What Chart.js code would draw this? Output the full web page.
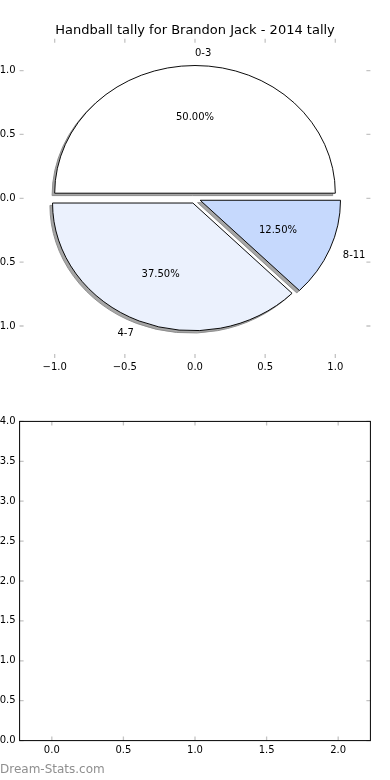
<!DOCTYPE html>
<html><head><meta charset="utf-8">
<script src="https://cdn.jsdelivr.net/npm/chart.js@4.4.1/dist/chart.umd.min.js"></script>
<style>
html,body{margin:0;padding:0;background:#fff;}
#wrap{position:relative;width:390px;height:780px;overflow:hidden;background:#fff;}
#wrap canvas{position:absolute;left:0;}
#wm{position:absolute;left:0;top:763px;font:12px "DejaVu Sans",sans-serif;line-height:12px;color:#8f8f8f;white-space:nowrap;}
</style></head><body>
<div id="wrap">
<canvas id="axTop" width="390" height="390" style="top:0"></canvas>
<canvas id="pieShadow" width="390" height="390" style="top:0"></canvas>
<canvas id="pie" width="390" height="390" style="top:0"></canvas>
<canvas id="axBottom" width="390" height="390" style="top:390px"></canvas>
<div id="wm">Dream-Stats.com</div>
</div>
<script>
// ---- data ----
const chartTitle = 'Handball tally for Brandon Jack - 2014 tally';
const categories = ['0-3', '4-7', '8-11'];
const tallies = [4, 3, 1];
const sliceColors = ['#ffffff', '#ebf1fd', '#c6d9fd'];
const explode = [0.04, 0.04, 0.04];
const pieTicks = [-1, -0.5, 0, 0.5, 1];
const pieRange = [-1.25, 1.25];
const emptyXTicks = [0, 0.5, 1, 1.5, 2];
const emptyYTicks = [0, 0.5, 1, 1.5, 2, 2.5, 3, 3.5, 4];
const emptyXRange = [-0.225, 2.225];
const emptyYRange = [0, 4];

// ---- setup ----
Chart.defaults.font.family = '"DejaVu Sans", sans-serif';
Chart.defaults.font.size = 10;
Chart.defaults.color = '#000';
const W = 390, H = 390;
const fmt = v => Number(v).toFixed(1).replace('-', '\u2212');
const fixedTicks = arr => scale => { scale.ticks = arr.map(v => ({ value: v })); };

function tickMarks(frame) {
  return {
    id: 'tickMarks',
    afterDraw(c) {
      const { ctx, chartArea: a } = c;
      const x = c.scales.x, y = c.scales.y, L = 4;
      ctx.save();
      ctx.lineWidth = 1.3;
      ctx.strokeStyle = '#c4c4c4';
      ctx.beginPath();
      x.ticks.forEach(t => {
        const p = x.getPixelForValue(t.value);
        ctx.moveTo(p, a.top); ctx.lineTo(p, a.top + L);
        ctx.moveTo(p, a.bottom); ctx.lineTo(p, a.bottom - L);
      });
      y.ticks.forEach(t => {
        const p = y.getPixelForValue(t.value);
        ctx.moveTo(a.left, p); ctx.lineTo(a.left + L, p);
        ctx.moveTo(a.right, p); ctx.lineTo(a.right - L, p);
      });
      ctx.stroke();
      if (frame) {
        ctx.strokeStyle = '#000';
        ctx.lineWidth = 1;
        ctx.strokeRect(a.left, a.top, a.right - a.left, a.bottom - a.top);
      }
      ctx.restore();
    }
  };
}

function axesConfig(xr, yr, xt, yt, area, frame, title) {
  return {
    type: 'scatter',
    data: { datasets: [{ data: [] }] },
    options: {
      responsive: false, animation: false, events: [],
      layout: { padding: { top: title ? 0 : area.top, right: 0, left: 0, bottom: 0 } },
      plugins: {
        legend: { display: false }, tooltip: { enabled: false },
        title: title ? {
          display: true, text: title, color: '#000',
          font: { family: '"DejaVu Sans", sans-serif', size: 13, weight: 'normal' },
          padding: { top: 22.6, bottom: area.top - 22.6 - 15.6 }
        } : { display: false }
      },
      scales: {
        x: {
          type: 'linear', min: xr[0], max: xr[1],
          afterBuildTicks: fixedTicks(xt),
          afterFit: s => { s.height = H - area.bottom; },
          grid: { display: false, drawTicks: false }, border: { display: false },
          ticks: { callback: v => fmt(v), padding: 4, maxRotation: 0, autoSkip: false }
        },
        y: {
          type: 'linear', min: yr[0], max: yr[1],
          afterBuildTicks: fixedTicks(yt),
          afterFit: s => { s.width = area.left; },
          grid: { display: false, drawTicks: false }, border: { display: false },
          ticks: { callback: v => fmt(v), padding: 4, autoSkip: false }
        },
        yRight: {
          type: 'linear', position: 'right', min: yr[0], max: yr[1],
          afterFit: s => { s.width = W - area.right; },
          grid: { display: false, drawTicks: false }, border: { display: false },
          ticks: { display: false }
        }
      }
    },
    plugins: [tickMarks(frame)]
  };
}

const axTop = new Chart(document.getElementById('axTop'),
  axesConfig(pieRange, pieRange, pieTicks, pieTicks,
    { left: 19.6, right: 370.4, top: 38.7, bottom: 357.9 }, false, chartTitle));

const axBottom = new Chart(document.getElementById('axBottom'),
  axesConfig(emptyXRange, emptyYRange, emptyXTicks, emptyYTicks,
    { left: 19.6, right: 370.4, top: 31.4, bottom: 350.6 }, true, null));

// ---- pie placed on the top axes' scales ----
const xs = axTop.scales.x, ys = axTop.scales.y;
const cx = xs.getPixelForValue(0), cy = ys.getPixelForValue(0);
const rx = xs.getPixelForValue(1) - cx, ry = cy - ys.getPixelForValue(1);
const k = ry / rx;
const s = Math.min(cx, W - cx, cy, H - cy);
const piePadding = { left: cx - s, right: W - cx - s, top: cy - s, bottom: H - cy - s };
const order = categories.map((_, i) => i).reverse(); // matplotlib draws counter-clockwise
const total = tallies.reduce((a, b) => a + b, 0);

const explodePlugin = {
  id: 'explode',
  afterUpdate(c) {
    const a = c.chartArea;
    const mx = (a.left + a.right) / 2, my = (a.top + a.bottom) / 2;
    c.getDatasetMeta(0).data.forEach((el, j) => {
      const i = order[j];
      const mid = (el.startAngle + el.endAngle) / 2;
      const d = explode[i] * el.outerRadius;
      el.x = mx + Math.cos(mid) * d;
      el.y = my + Math.sin(mid) * d;
    });
  }
};
const ellipse = (sx, sy) => ({
  id: 'ellipse',
  beforeDatasetsDraw(c) {
    const ctx = c.ctx;
    ctx.save();
    ctx.translate(sx, cy + sy);
    ctx.scale(1, k);
    ctx.translate(0, -cy);
  },
  afterDatasetsDraw(c) { c.ctx.restore(); }
});
const toScreen = (x, y) => [x, cy + (y - cy) * k];
const labelPlugin = {
  id: 'pieLabels',
  afterDraw(c) {
    const ctx = c.ctx;
    ctx.save();
    ctx.font = '10px "DejaVu Sans", sans-serif';
    ctx.fillStyle = '#000';
    ctx.textBaseline = 'alphabetic';
    const half = 3.7; // half the digit height, so text is centred like matplotlib's va='center'
    c.getDatasetMeta(0).data.forEach((el, j) => {
      const i = order[j];
      const mid = (el.startAngle + el.endAngle) / 2;
      const r = el.outerRadius, co = Math.cos(mid), si = Math.sin(mid);
      const [lx, ly] = toScreen(el.x + co * 1.1 * r, el.y + si * 1.1 * r);
      ctx.textAlign = co < -1e-9 ? 'right' : 'left';
      ctx.fillText(categories[i], lx, ly + half);
      const [px, py] = toScreen(el.x + co * 0.6 * r, el.y + si * 0.6 * r);
      ctx.textAlign = 'center';
      ctx.fillText((tallies[i] / total * 100).toFixed(2) + '%', px, py + half);
    });
    ctx.restore();
  }
};

function pieConfig(colors, border, shift, extra) {
  return {
    type: 'pie',
    data: {
      labels: order.map(i => categories[i]),
      datasets: [{
        data: order.map(i => tallies[i]),
        backgroundColor: colors,
        borderColor: border, borderWidth: 1, borderJoinStyle: 'miter',
        clip: false
      }]
    },
    options: {
      responsive: false, animation: false, events: [],
      rotation: 90, radius: rx,
      layout: { padding: piePadding },
      plugins: { legend: { display: false }, tooltip: { enabled: false }, title: { display: false } }
    },
    plugins: [explodePlugin, ellipse(shift[0], shift[1])].concat(extra)
  };
}

new Chart(document.getElementById('pieShadow'),
  pieConfig(order.map(() => '#a6a6a6'), '#8c8c8c', [-2.6, 2.4], []));
new Chart(document.getElementById('pie'),
  pieConfig(order.map(i => sliceColors[i]), '#000000', [0, 0], [labelPlugin]));
</script>
</body></html>
